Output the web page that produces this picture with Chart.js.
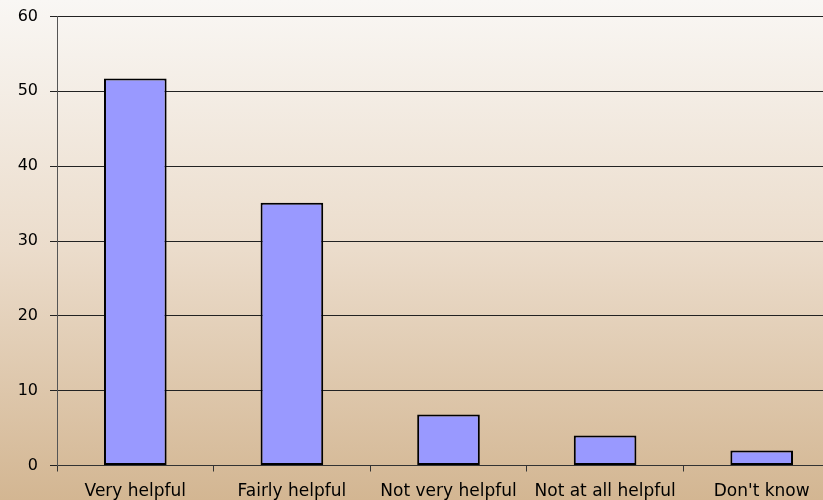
<!DOCTYPE html>
<html>
<head>
<meta charset="utf-8">
<script src="https://cdn.jsdelivr.net/npm/chart.js@4/dist/chart.umd.min.js"></script>
<style>
    html, body { margin: 0; padding: 0; overflow: hidden; }
    /* the last category runs past the right edge of the window */
    #wrap { width: 840px; height: 500px; }
</style>
</head>
<body>
<div id="wrap"><canvas id="chartAjuda"></canvas></div>
<script>
// Survey answers and percentages
const categorias = ['Very helpful', 'Fairly helpful', 'Not very helpful', 'Not at all helpful', "Don't know"];
const valores = [51.7, 35.1, 6.8, 4.0, 2.0];
const yTicks = [0, 10, 20, 30, 40, 50, 60];

// Cream-to-tan backdrop behind the whole chart
const fundoGradiente = {
    id: 'fundoGradiente',
    beforeDraw(chart) {
        const { ctx, width, height } = chart;
        const g = ctx.createLinearGradient(0, 0, 0, height);
        g.addColorStop(0, '#f9f7f4');
        g.addColorStop(0.5, '#ebdccb');
        g.addColorStop(1, '#d3b692');
        ctx.save();
        ctx.fillStyle = g;
        ctx.fillRect(0, 0, width, height);
        ctx.restore();
    }
};

const ctx = document.getElementById('chartAjuda');
new Chart(ctx, {
    type: 'bar',
    data: {
        labels: categorias,
        datasets: [{
            data: valores,
            backgroundColor: '#9999ff',
            borderColor: '#000000',
            borderWidth: 2,
            borderSkipped: false,
            categoryPercentage: 0.40,
            barPercentage: 1
        }]
    },
    options: {
        responsive: true,
        maintainAspectRatio: false,
        animation: false,
        layout: { padding: { top: 16.5, right: 0, left: 0, bottom: 0 } },
        plugins: {
            legend: { display: false },
            tooltip: { enabled: false }
        },
        scales: {
            x: {
                grid: {
                    offset: true,
                    drawOnChartArea: false,
                    tickLength: 6,
                    color: '#333333'
                },
                border: { color: '#333333', width: 1 },
                ticks: {
                    color: '#000000',
                    font: { family: 'DejaVu Sans', size: 17 },
                    maxRotation: 0,
                    autoSkip: false,
                    padding: 10
                },
                afterFit(scale) { scale.height = 34.5; }
            },
            y: {
                min: 0,
                max: 60,
                afterBuildTicks(scale) {
                    scale.ticks = yTicks.map(v => ({ value: v }));
                },
                grid: {
                    color: '#222222',
                    lineWidth: 1,
                    tickLength: 7
                },
                border: { color: '#555555', width: 1 },
                ticks: {
                    color: '#000000',
                    font: { family: 'DejaVu Sans', size: 16 },
                    padding: 12
                },
                afterFit(scale) {
                    scale.width = 57;
                    // keep the top label from pushing the plot area down
                    scale.paddingTop = 0;
                    scale.paddingBottom = 0;
                }
            }
        }
    },
    plugins: [fundoGradiente]
});
</script>
</body>
</html>
